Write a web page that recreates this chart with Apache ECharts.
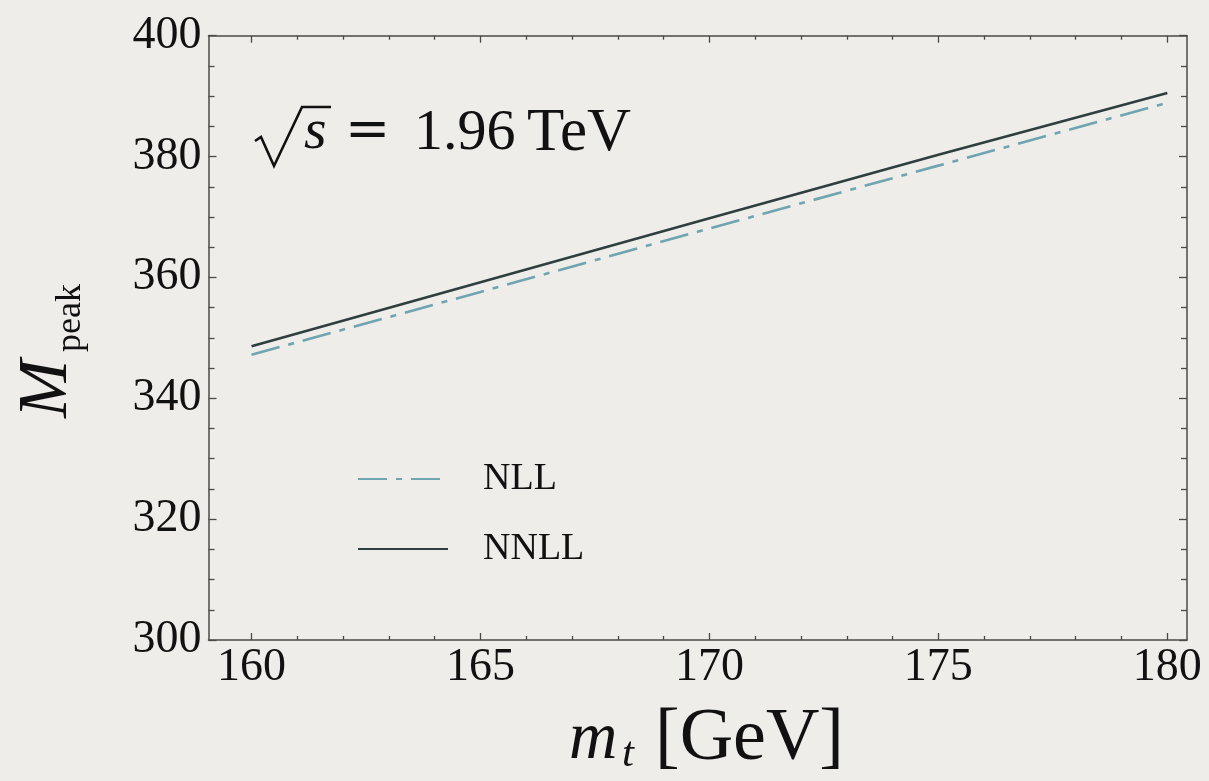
<!DOCTYPE html>
<html>
<head>
<meta charset="utf-8">
<script src="https://cdn.jsdelivr.net/npm/echarts@6/dist/echarts.min.js"></script>
<style>
  html, body { margin: 0; padding: 0; background: #eeede9; }
  #chart { width: 1209px; height: 781px; }
</style>
</head>
<body>
<div id="chart"></div>
<script>
// Top-quark mass [GeV] on x, peak invariant mass on y
const massPoints = [160, 165, 170, 175, 180];
const nllPeak = [347.2, 357.6, 368.1, 378.5, 388.9];
const nnllPeak = [348.6, 359.2, 369.8, 380.3, 390.5];
const seriesNames = ['NLL', 'NNLL'];
const xMajorTicks = [160, 165, 170, 175, 180];
const xMinorTicks = [159, 161, 162, 163, 164, 166, 167, 168, 169, 171, 172, 173, 174, 176, 177, 178, 179];

const SERIF = '"Liberation Serif", "DejaVu Serif", serif';
const AXIS_COLOR = '#4a4a4a';

const chart = echarts.init(document.getElementById('chart'), null, { renderer: 'canvas' });

const xMin = 159.06, xMax = 180.43;

function xAxisDef(pos, ticks, len, showLine, showLabel) {
  return {
    type: 'value', position: pos, min: xMin, max: xMax,
    axisLine: { show: showLine, onZero: false, lineStyle: { color: AXIS_COLOR, width: 1.5 } },
    axisTick: { show: true, inside: true, length: len, customValues: ticks,
                lineStyle: { color: AXIS_COLOR, width: 1.3 } },
    axisLabel: { show: showLabel, customValues: ticks, margin: 5,
                 fontFamily: SERIF, fontSize: 46, color: '#111' },
    splitLine: { show: false }
  };
}
function yAxisDef(pos, showLabel) {
  return {
    type: 'value', position: pos, min: 300, max: 400, interval: 20,
    axisLine: { show: true, onZero: false, lineStyle: { color: AXIS_COLOR, width: 1.5 } },
    axisTick: { show: true, inside: true, length: 8, lineStyle: { color: AXIS_COLOR, width: 1.3 } },
    minorTick: { show: true, splitNumber: 4, length: 6, lineStyle: { color: AXIS_COLOR, width: 1.3 } },
    axisLabel: { show: showLabel, margin: 7, fontFamily: SERIF, fontSize: 46, color: '#111' },
    splitLine: { show: false }, minorSplitLine: { show: false }
  };
}

const option = {
  backgroundColor: '#eeede9',
  animation: false,
  grid: { left: 208.5, right: 22, top: 35.7, bottom: 141, containLabel: false },
  xAxis: [
    xAxisDef('bottom', xMajorTicks, 7, true, true),
    xAxisDef('bottom', xMinorTicks, 4, false, false),
    xAxisDef('top', xMajorTicks, 7, true, false),
    xAxisDef('top', xMinorTicks, 4, false, false)
  ],
  yAxis: [yAxisDef('left', true), yAxisDef('right', false)],
  legend: {
    data: seriesNames,
    orient: 'vertical',
    left: 352, top: 454,
    itemWidth: 90, itemHeight: 14, itemGap: 30,
    itemStyle: { opacity: 0 },
    textStyle: { fontFamily: SERIF, fontSize: 38, color: '#111', lineHeight: 40, padding: [0, 0, 0, 30] }
  },
  series: [
    {
      name: 'NLL', type: 'line', symbol: 'circle', showSymbol: false, xAxisIndex: 0, yAxisIndex: 0,
      data: massPoints.map((m, i) => [m, nllPeak[i]]),
      lineStyle: { color: '#6fa4b1', width: 2.6, type: [29, 9, 6, 9] },
      itemStyle: { color: '#6fa4b1' }
    },
    {
      name: 'NNLL', type: 'line', symbol: 'circle', showSymbol: false, xAxisIndex: 0, yAxisIndex: 0,
      data: massPoints.map((m, i) => [m, nnllPeak[i]]),
      lineStyle: { color: '#2f3e3f', width: 2.6 },
      itemStyle: { color: '#2f3e3f' }
    }
  ],
  graphic: [
    // collider energy annotation: radical sign drawn as a polyline
    { type: 'polyline', silent: true,
      shape: { points: [[255, 141], [261, 137], [274, 166], [302, 107], [331, 107]] },
      style: { stroke: '#111', lineWidth: 2.6, fill: null } },
    { type: 'text', x: 304, y: 133, style: { text: 's', fontFamily: SERIF, fontStyle: 'italic', fontSize: 58, fill: '#111', verticalAlign: 'middle' } },
    { type: 'text', x: 345, y: 133, style: { text: '=', fontFamily: '"DejaVu Serif", serif', fontSize: 54, fill: '#111', verticalAlign: 'middle' } },
    { type: 'text', x: 414, y: 134, style: { text: '1.96', fontFamily: SERIF, fontSize: 58, fill: '#111', verticalAlign: 'middle' } },
    { type: 'text', x: 527, y: 134, style: { text: 'TeV', fontFamily: SERIF, fontSize: 61, fill: '#111', verticalAlign: 'middle' } },
    // x axis title
    { type: 'text', x: 569, y: 740, style: { text: 'm', fontFamily: SERIF, fontStyle: 'italic', fontSize: 67, fill: '#111', verticalAlign: 'middle' } },
    { type: 'text', x: 622, y: 755, style: { text: 't', fontFamily: SERIF, fontStyle: 'italic', fontSize: 43, fill: '#111', verticalAlign: 'middle' } },
    { type: 'text', x: 655, y: 740, style: { text: '[GeV]', fontFamily: SERIF, fontSize: 74, fill: '#111', verticalAlign: 'middle' } },
    // y axis title, rotated
    { type: 'text', x: 48, y: 418, rotation: Math.PI / 2,
      style: { text: 'M', fontFamily: SERIF, fontStyle: 'italic', fontSize: 70, fill: '#111', verticalAlign: 'middle', align: 'left' } },
    { type: 'text', x: 71, y: 352, rotation: Math.PI / 2,
      style: { text: 'peak', fontFamily: SERIF, fontSize: 36, fill: '#111', verticalAlign: 'middle', align: 'left' } }
  ]
};

chart.setOption(option);
</script>
</body>
</html>
